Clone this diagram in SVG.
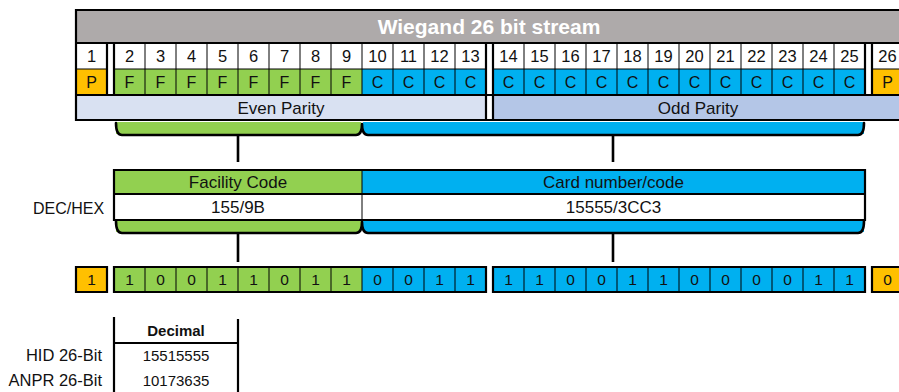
<svg xmlns="http://www.w3.org/2000/svg" width="899" height="392" viewBox="0 0 899 392">
<style>
text{font-family:"Liberation Sans",Arial,sans-serif;fill:#111;text-anchor:middle}
.hd{font-size:21px;font-weight:bold;fill:#fff}
.num{font-size:16.5px}
.let{font-size:16px}
.par{font-size:17px}
.bin{font-size:15.5px}
.tb{font-size:15px}
.lb{font-size:16.5px;text-anchor:end}
.thick{stroke:#000;stroke-width:2.2;fill:none}
.thin{stroke:#000;stroke-width:1;fill:none}
.brace{stroke:#000;stroke-width:2.6;fill:none;stroke-linecap:round}
.stem{stroke:#000;stroke-width:2.6;fill:none}
.o{fill:#FFC000}.g{fill:#92D050}.b{fill:#00B0F0}.w{fill:#fff}
</style>
<rect width="899" height="392" fill="#fff"/>

<g id="stream">
  <rect x="76" y="10" width="830" height="33" fill="#AEAAAA"/>
  <text class="hd" x="489" y="34">Wiegand 26 bit stream</text>
  <rect class="w" x="76" y="43" width="830" height="26"/>
  <rect class="o" x="76" y="69" width="31" height="26"/>
  <rect class="g" x="114" y="69" width="248" height="26"/>
  <rect class="b" x="362" y="69" width="124" height="26"/>
  <rect class="b" x="493" y="69" width="372" height="26"/>
  <rect class="o" x="872" y="69" width="34" height="26"/>
  <rect x="76" y="95" width="410" height="25" fill="#D9E1F2"/>
  <rect x="493" y="95" width="413" height="25" fill="#B4C6E7"/>
  <path class="thin" d="M145,43V95M176,43V95M207,43V95M238,43V95M269,43V95M300,43V95M331,43V95M362,43V95M393,43V95M424,43V95M455,43V95M524,43V95M555,43V95M586,43V95M617,43V95M648,43V95M679,43V95M710,43V95M741,43V95M772,43V95M803,43V95M834,43V95"/>
  <path class="thin" stroke-width="1.6" d="M76,69H107M114,69H486M493,69H865M872,69H906"/>
  <path class="thick" d="M906,10H76V120H906M76,43H906M76,95H906M107,43V95M114,43V95M486,43V120M493,43V120M865,43V95M872,43V95"/>
  <g class="num">
    <text x="91.5" y="62">1</text>
    <text x="129.5" y="62">2</text><text x="160.5" y="62">3</text><text x="191.5" y="62">4</text><text x="222.5" y="62">5</text>
    <text x="253.5" y="62">6</text><text x="284.5" y="62">7</text><text x="315.5" y="62">8</text><text x="346.5" y="62">9</text>
    <text x="377.5" y="62">10</text><text x="408.5" y="62">11</text><text x="439.5" y="62">12</text><text x="470.5" y="62">13</text>
    <text x="508.5" y="62">14</text><text x="539.5" y="62">15</text><text x="570.5" y="62">16</text><text x="601.5" y="62">17</text>
    <text x="632.5" y="62">18</text><text x="663.5" y="62">19</text><text x="694.5" y="62">20</text><text x="725.5" y="62">21</text>
    <text x="756.5" y="62">22</text><text x="787.5" y="62">23</text><text x="818.5" y="62">24</text><text x="849.5" y="62">25</text>
    <text x="887.5" y="62">26</text>
  </g>
  <g class="let">
    <text x="91.5" y="88">P</text>
    <text x="129.5" y="88">F</text><text x="160.5" y="88">F</text><text x="191.5" y="88">F</text><text x="222.5" y="88">F</text>
    <text x="253.5" y="88">F</text><text x="284.5" y="88">F</text><text x="315.5" y="88">F</text><text x="346.5" y="88">F</text>
    <text x="377.5" y="88">C</text><text x="408.5" y="88">C</text><text x="439.5" y="88">C</text><text x="470.5" y="88">C</text>
    <text x="508.5" y="88">C</text><text x="539.5" y="88">C</text><text x="570.5" y="88">C</text><text x="601.5" y="88">C</text>
    <text x="632.5" y="88">C</text><text x="663.5" y="88">C</text><text x="694.5" y="88">C</text><text x="725.5" y="88">C</text>
    <text x="756.5" y="88">C</text><text x="787.5" y="88">C</text><text x="818.5" y="88">C</text><text x="849.5" y="88">C</text>
    <text x="887.5" y="88">P</text>
  </g>
  <text class="par" x="281" y="113.5">Even Parity</text>
  <text class="par" x="698" y="113.5">Odd Parity</text>
</g>

<g id="connectors">
  <rect class="g" x="116" y="122" width="245" height="12"/>
  <rect class="b" x="363" y="122" width="501" height="12"/>
  <path class="brace" d="M116,123Q116,135 122,135H356Q362,135 362,124M362,124Q362,135 368,135H858Q864,135 864,123"/>
  <path class="stem" d="M238,135V162M613,135V162"/>
  <rect class="g" x="116" y="220" width="245" height="12"/>
  <rect class="b" x="363" y="220" width="501" height="12"/>
  <path class="brace" d="M116,221Q116,233 122,233H356Q362,233 362,222M362,222Q362,233 368,233H858Q864,233 864,221"/>
  <path class="stem" d="M238,233V262M613,233V262"/>
</g>

<g id="facility">
  <rect class="g" x="114" y="170" width="248" height="24"/>
  <rect class="w" x="114" y="194" width="248" height="26"/>
  <text class="par" x="238" y="188">Facility Code</text>
  <text class="par" x="238" y="213">155/9B</text>
</g>
<g id="card">
  <rect class="b" x="362" y="170" width="503" height="24"/>
  <rect class="w" x="362" y="194" width="503" height="26"/>
  <text class="par" x="613.5" y="188">Card number/code</text>
  <text class="par" x="613.5" y="213">15555/3CC3</text>
</g>
<path class="thick" d="M114,170H865V220H114ZM114,194H865"/>
<path class="thin" stroke-width="1.4" d="M362,170V220"/>
<text class="par" x="68.5" y="214" style="font-size:16px">DEC/HEX</text>

<g id="binary">
  <rect class="o" x="76" y="267" width="31" height="25"/>
  <rect class="g" x="114" y="267" width="248" height="25"/>
  <rect class="b" x="362" y="267" width="124" height="25"/>
  <rect class="b" x="493" y="267" width="372" height="25"/>
  <rect class="o" x="872" y="267" width="34" height="25"/>
  <path class="thin" d="M145,267V292M176,267V292M207,267V292M238,267V292M269,267V292M300,267V292M331,267V292M362,267V292M393,267V292M424,267V292M455,267V292M524,267V292M555,267V292M586,267V292M617,267V292M648,267V292M679,267V292M710,267V292M741,267V292M772,267V292M803,267V292M834,267V292"/>
  <path class="thick" d="M76,267H107V292H76ZM114,267H486V292H114ZM493,267H865V292H493ZM906,267H872V292H906"/>
  <g class="bin">
    <text x="91.5" y="285">1</text>
    <text x="129.5" y="285">1</text><text x="160.5" y="285">0</text><text x="191.5" y="285">0</text><text x="222.5" y="285">1</text>
    <text x="253.5" y="285">1</text><text x="284.5" y="285">0</text><text x="315.5" y="285">1</text><text x="346.5" y="285">1</text>
    <text x="377.5" y="285">0</text><text x="408.5" y="285">0</text><text x="439.5" y="285">1</text><text x="470.5" y="285">1</text>
    <text x="508.5" y="285">1</text><text x="539.5" y="285">1</text><text x="570.5" y="285">0</text><text x="601.5" y="285">0</text>
    <text x="632.5" y="285">1</text><text x="663.5" y="285">1</text><text x="694.5" y="285">0</text><text x="725.5" y="285">0</text>
    <text x="756.5" y="285">0</text><text x="787.5" y="285">0</text><text x="818.5" y="285">1</text><text x="849.5" y="285">1</text>
    <text x="887.5" y="285">0</text>
  </g>
</g>

<g id="table">
  <path class="thick" stroke-width="1.8" d="M114,317V392M238,319V392M114,343H238"/>
  <text class="tb" x="176" y="336" font-weight="bold">Decimal</text>
  <text class="tb" x="176" y="361">15515555</text>
  <text class="tb" x="176" y="386">10173635</text>
  <text class="lb" x="102" y="361">HID 26-Bit</text>
  <text class="lb" x="102" y="386">ANPR 26-Bit</text>
</g>
</svg>
